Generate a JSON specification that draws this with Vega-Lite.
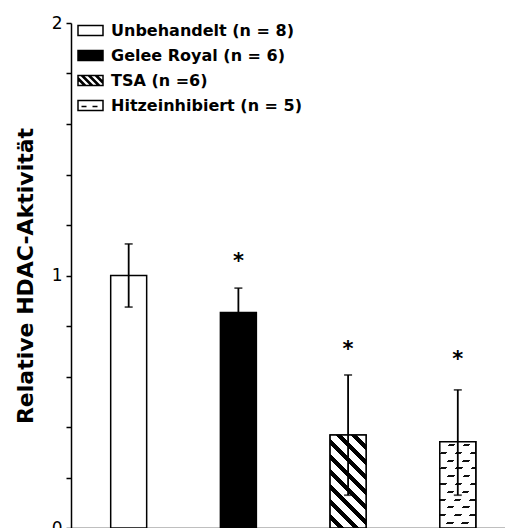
{
  "$schema": "https://vega.github.io/schema/vega-lite/v6.json",
  "autosize": "none",
  "padding": {"left": 71, "top": 23, "right": 0, "bottom": 0},
  "width": 434,
  "height": 505,
  "background": "white",
  "config": {"view": {"stroke": null}},
  "data": {"values": [
    {"g": "Unbehandelt (n = 8)", "v": 1.0, "lo": 0.875, "hi": 1.125, "star": "", "sy": null},
    {"g": "Gelee Royal (n = 6)", "v": 0.853, "lo": 0.756, "hi": 0.95, "star": "*", "sy": 1.03},
    {"g": "TSA (n =6)", "v": 0.368, "lo": 0.13, "hi": 0.606, "star": "*", "sy": 0.68},
    {"g": "Hitzeinhibiert (n = 5)", "v": 0.342, "lo": 0.13, "hi": 0.547, "star": "*", "sy": 0.64}
  ]},
  "encoding": {
    "x": {"field": "g", "type": "nominal", "sort": null,
      "scale": {"paddingInner": 0.672, "paddingOuter": 0.314, "align": 0.576},
      "axis": {"title": null, "labels": false, "ticks": true, "tickBand": "extent", "tickSize": 5, "tickWidth": 1.5, "tickColor": "black", "domainColor": "black", "domainWidth": 1.5}},
    "y": {"field": "v", "type": "quantitative",
      "scale": {"domain": [0, 2], "nice": false},
      "axis": {"title": "Relative HDAC-Aktivität", "values": [0, 0.2, 0.4, 0.6, 0.8, 1, 1.2, 1.4, 1.6, 1.8, 2],
        "labelExpr": "datum.value == 0 ? '0' : (datum.value == 1 ? '1' : (datum.value == 2 ? '2' : ''))",
        "labelOverlap": false, "ticks": true,
        "grid": false, "tickSize": 5, "tickWidth": 1.5, "tickColor": "black", "domainColor": "black", "domainWidth": 1.5,
        "labelFont": "DejaVu Sans", "labelFontSize": 17, "labelColor": "black", "labelPadding": 4, "labelFlush": false,
        "titleFont": "DejaVu Sans", "titleFontSize": 22, "titleFontWeight": "bold", "titleColor": "black", "titlePadding": 14}}
  },
  "layer": [
    {
      "mark": {"type": "bar", "stroke": "black", "strokeWidth": 1.5},
      "encoding": {
        "fill": {"field": "g", "type": "nominal",
          "scale": {"domain": ["Unbehandelt (n = 8)", "Gelee Royal (n = 6)", "TSA (n =6)", "Hitzeinhibiert (n = 5)"],
            "range": ["white", "black", "black", "white"]},
          "legend": {"title": null, "orient": "none", "legendX": 8.5, "legendY": -3.5, "padding": 0,
            "symbolType": "M-1.25,-0.5H1.25V0.5H-1.25Z", "symbolSize": 400, "symbolStrokeWidth": 1.5, "symbolStrokeColor": "black",
            "labelFont": "DejaVu Sans", "labelFontWeight": "bold", "labelFontSize": 16, "labelColor": "black", "labelOffset": 9.5, "labelLimit": 400, "rowPadding": 6,
            "encode": {"symbols": {"update": {
              "stroke": {"value": "black"},
              "strokeWidth": {"value": 1.5},
              "shape": {"signal": "datum.value == 'Hitzeinhibiert (n = 5)' ? 'M-1.25,-0.5H1.25V0.5H-1.25Z M-0.9,0.1H-0.4 M0.2,0.1H0.7' : (datum.value == 'TSA (n =6)' ? 'M-1.25,-0.5H1.25V0.5H-1.25Z M-1.25,-0.115L-1.25,0.5L-0.635,0.5Z M-1.25,-0.5L-1.25,-0.285L-0.465,0.5L0.065,0.5L-0.935,-0.5Z M-0.765,-0.5L0.235,0.5L0.765,0.5L-0.235,-0.5Z M-0.065,-0.5L0.935,0.5L1.25,0.5L1.25,0.285L0.465,-0.5Z M0.635,-0.5L1.25,0.115L1.25,-0.5Z' : 'M-1.25,-0.5H1.25V0.5H-1.25Z')"}
            }}}}}
      }
    },
    {
      "transform": [{"filter": "datum.g == 'TSA (n =6)'"}],
      "mark": {"type": "bar", "stroke": "black", "strokeWidth": 1.5,
        "fill": {"gradient": "linear", "x1": 0, "y1": 1, "x2": 0.467, "y2": -0.207, "stops": [
          {"offset": 0, "color": "white"}, {"offset": 0.0646, "color": "white"}, {"offset": 0.0646, "color": "black"}, {"offset": 0.1134, "color": "black"}, {"offset": 0.1134, "color": "white"},
          {"offset": 0.1811, "color": "white"}, {"offset": 0.1811, "color": "black"}, {"offset": 0.2299, "color": "black"}, {"offset": 0.2299, "color": "white"},
          {"offset": 0.2974, "color": "white"}, {"offset": 0.2974, "color": "black"}, {"offset": 0.3462, "color": "black"}, {"offset": 0.3462, "color": "white"},
          {"offset": 0.4137, "color": "white"}, {"offset": 0.4137, "color": "black"}, {"offset": 0.4625, "color": "black"}, {"offset": 0.4625, "color": "white"},
          {"offset": 0.53, "color": "white"}, {"offset": 0.53, "color": "black"}, {"offset": 0.5788, "color": "black"}, {"offset": 0.5788, "color": "white"},
          {"offset": 0.6461, "color": "white"}, {"offset": 0.6461, "color": "black"}, {"offset": 0.6949, "color": "black"}, {"offset": 0.6949, "color": "white"},
          {"offset": 0.7624, "color": "white"}, {"offset": 0.7624, "color": "black"}, {"offset": 0.8112, "color": "black"}, {"offset": 0.8112, "color": "white"},
          {"offset": 0.8787, "color": "white"}, {"offset": 0.8787, "color": "black"}, {"offset": 0.9275, "color": "black"}, {"offset": 0.9275, "color": "white"},
          {"offset": 0.995, "color": "white"}, {"offset": 0.995, "color": "black"}, {"offset": 1, "color": "black"}
        ]}}
    },
    {
      "transform": [{"filter": "datum.g == 'Hitzeinhibiert (n = 5)'"}],
      "mark": {"type": "bar", "strokeWidth": 0,
        "fill": {"gradient": "linear", "x1": 0, "y1": 0, "x2": 0, "y2": 1, "stops": [
          {"offset": 0, "color": "white"}, {"offset": 0.0266, "color": "white"}, {"offset": 0.0266, "color": "#111"}, {"offset": 0.0498, "color": "#111"}, {"offset": 0.0498, "color": "white"},
          {"offset": 0.1169, "color": "white"}, {"offset": 0.1169, "color": "#111"}, {"offset": 0.1401, "color": "#111"}, {"offset": 0.1401, "color": "white"},
          {"offset": 0.2072, "color": "white"}, {"offset": 0.2072, "color": "#111"}, {"offset": 0.2304, "color": "#111"}, {"offset": 0.2304, "color": "white"},
          {"offset": 0.2975, "color": "white"}, {"offset": 0.2975, "color": "#111"}, {"offset": 0.3207, "color": "#111"}, {"offset": 0.3207, "color": "white"},
          {"offset": 0.3878, "color": "white"}, {"offset": 0.3878, "color": "#111"}, {"offset": 0.411, "color": "#111"}, {"offset": 0.411, "color": "white"},
          {"offset": 0.4781, "color": "white"}, {"offset": 0.4781, "color": "#111"}, {"offset": 0.5013, "color": "#111"}, {"offset": 0.5013, "color": "white"},
          {"offset": 0.5684, "color": "white"}, {"offset": 0.5684, "color": "#111"}, {"offset": 0.5916, "color": "#111"}, {"offset": 0.5916, "color": "white"},
          {"offset": 0.6587, "color": "white"}, {"offset": 0.6587, "color": "#111"}, {"offset": 0.6819, "color": "#111"}, {"offset": 0.6819, "color": "white"},
          {"offset": 0.749, "color": "white"}, {"offset": 0.749, "color": "#111"}, {"offset": 0.7722, "color": "#111"}, {"offset": 0.7722, "color": "white"},
          {"offset": 0.8393, "color": "white"}, {"offset": 0.8393, "color": "#111"}, {"offset": 0.8625, "color": "#111"}, {"offset": 0.8625, "color": "white"},
          {"offset": 0.9296, "color": "white"}, {"offset": 0.9296, "color": "#111"}, {"offset": 0.9528, "color": "#111"}, {"offset": 0.9528, "color": "white"},
          {"offset": 1, "color": "white"}
        ]}}
    },
    {
      "transform": [{"filter": "datum.g == 'Hitzeinhibiert (n = 5)'"}],
      "mark": {"type": "bar", "strokeWidth": 0,
        "fill": {"gradient": "linear", "x1": 0, "y1": 0, "x2": 0.503, "y2": 1.207, "stops": [
          {"offset": 0, "color": "rgba(255,255,255,0)"}, {"offset": 0.0237, "color": "rgba(255,255,255,0)"}, {"offset": 0.0237, "color": "white"}, {"offset": 0.0964, "color": "white"},
          {"offset": 0.0964, "color": "rgba(255,255,255,0)"}, {"offset": 0.1487, "color": "rgba(255,255,255,0)"}, {"offset": 0.1487, "color": "white"}, {"offset": 0.2214, "color": "white"},
          {"offset": 0.2214, "color": "rgba(255,255,255,0)"}, {"offset": 0.2737, "color": "rgba(255,255,255,0)"}, {"offset": 0.2737, "color": "white"}, {"offset": 0.3464, "color": "white"},
          {"offset": 0.3464, "color": "rgba(255,255,255,0)"}, {"offset": 0.3987, "color": "rgba(255,255,255,0)"}, {"offset": 0.3987, "color": "white"}, {"offset": 0.4714, "color": "white"},
          {"offset": 0.4714, "color": "rgba(255,255,255,0)"}, {"offset": 0.5237, "color": "rgba(255,255,255,0)"}, {"offset": 0.5237, "color": "white"}, {"offset": 0.5964, "color": "white"},
          {"offset": 0.5964, "color": "rgba(255,255,255,0)"}, {"offset": 0.6487, "color": "rgba(255,255,255,0)"}, {"offset": 0.6487, "color": "white"}, {"offset": 0.7214, "color": "white"},
          {"offset": 0.7214, "color": "rgba(255,255,255,0)"}, {"offset": 0.7737, "color": "rgba(255,255,255,0)"}, {"offset": 0.7737, "color": "white"}, {"offset": 0.8464, "color": "white"},
          {"offset": 0.8464, "color": "rgba(255,255,255,0)"}, {"offset": 0.8987, "color": "rgba(255,255,255,0)"}, {"offset": 0.8987, "color": "white"}, {"offset": 0.9714, "color": "white"},
          {"offset": 0.9714, "color": "rgba(255,255,255,0)"}, {"offset": 1, "color": "rgba(255,255,255,0)"}
        ]}}
    },
    {
      "transform": [{"filter": "datum.g == 'Hitzeinhibiert (n = 5)'"}],
      "mark": {"type": "bar", "fillOpacity": 0, "fill": "white", "stroke": "black", "strokeWidth": 1.5}
    },
    {
      "mark": {"type": "rule", "color": "black", "strokeWidth": 1.8},
      "encoding": {"y": {"field": "lo", "type": "quantitative"}, "y2": {"field": "hi"}}
    },
    {
      "mark": {"type": "tick", "color": "black", "size": 8, "thickness": 1.8},
      "encoding": {"y": {"field": "lo", "type": "quantitative"}}
    },
    {
      "mark": {"type": "tick", "color": "black", "size": 8, "thickness": 1.8},
      "encoding": {"y": {"field": "hi", "type": "quantitative"}}
    },
    {
      "transform": [{"filter": "datum.sy != null"}],
      "mark": {"type": "text", "font": "DejaVu Sans", "fontWeight": "bold", "fontSize": 21, "color": "black", "baseline": "alphabetic"},
      "encoding": {"y": {"field": "sy", "type": "quantitative"}, "text": {"field": "star"}}
    }
  ]
}
